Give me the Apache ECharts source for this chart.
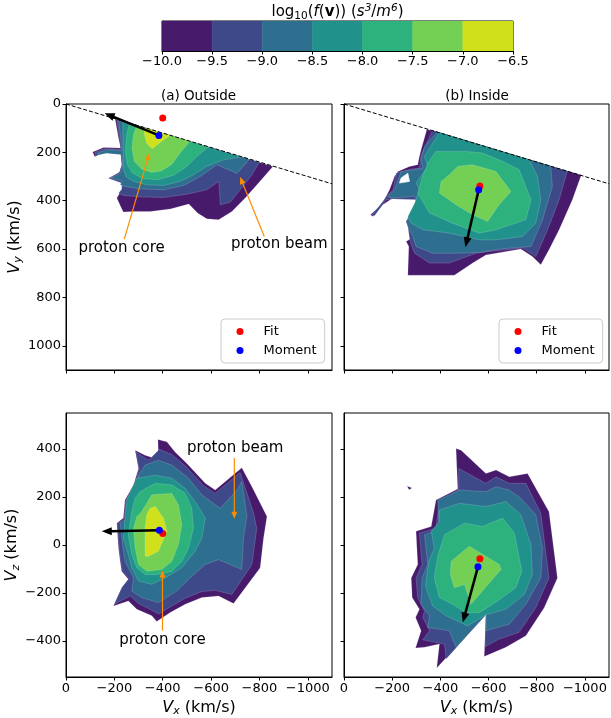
<!DOCTYPE html>
<html><head><meta charset="utf-8">
<script src="https://cdn.jsdelivr.net/npm/echarts@6/dist/echarts.min.js"></script>
<style>html,body{margin:0;padding:0;background:#fff}#c{width:611px;height:718px}</style>
</head><body><div id="c"></div>
<script>
// ---------------- data ----------------
const levels = [-10, -9.5, -9, -8.5, -8, -7.5, -7, -6.5];
const levelColors = ['#481a6c', '#3e4989', '#2e6e8e', '#21918c', '#2db27d', '#74d055', '#d0e11c'];
const xTicks = [0, -200, -400, -600, -800, -1000];
const vyTicks = [0, 200, 400, 600, 800, 1000];
const vzTicks = [-400, -200, 0, 200, 400];
const panelTitles = ['(a) Outside', '(b) Inside'];

// filled-contour regions: [level index (region where log f >= level), [[Vx, V], ...]]  (km/s)
const outsideXY = [
  [0, [[-203,61],[-856,258],[-796,327],[-741,389],[-686,445],[-631,479],[-582,475],[-544,451],[-508,414],[-431,434],[-348,445],[-279,445],[-237,447],[-226,424],[-210,389],[-231,355],[-231,327],[-175,307],[-221,282],[-231,251],[-226,203],[-155,199],[-119,218],[-110,199],[-155,180],[-226,182],[-217,141]]],
  [1, [[-210,63],[-800,241],[-769,293],[-720,355],[-679,406],[-638,417],[-632,320],[-582,355],[-500,373],[-403,387],[-306,384],[-235,378],[-217,369],[-231,351],[-231,327],[-179,307],[-221,282],[-231,251],[-226,207],[-157,202],[-124,215],[-119,200],[-157,185],[-226,187],[-221,141]]],
  [2, [[-217,65],[-759,228],[-707,287],[-624,251],[-555,300],[-486,337],[-403,355],[-306,351],[-244,341],[-224,334],[-232,318],[-185,305],[-226,286],[-235,251],[-232,210],[-168,204],[-133,211],[-130,203],[-168,189],[-232,192],[-226,141]]],
  [3, [[-235,70],[-727,219],[-651,231],[-582,258],[-527,293],[-472,320],[-403,337],[-334,334],[-279,320],[-248,300],[-237,265],[-237,210],[-235,127]]],
  [4, [[-262,79],[-589,177],[-541,217],[-500,258],[-444,295],[-382,313],[-320,309],[-276,286],[-254,251],[-246,196],[-251,127]]],
  [5, [[-293,88],[-513,154],[-472,203],[-438,249],[-396,276],[-355,283],[-313,269],[-283,238],[-273,182],[-279,127]]],
  [6, [[-324,98],[-431,129],[-392,157],[-356,185],[-334,163],[-324,124]]]
];
const insideXY = [
  [0, [[-344,104],[-985,294],[-948,396],[-893,520],[-851,603],[-817,665],[-782,631],[-734,600],[-589,624],[-534,658],[-458,708],[-265,708],[-269,589],[-258,569],[-279,555],[-265,506],[-258,486],[-286,437],[-299,396],[-279,382],[-203,389],[-161,417],[-120,465],[-110,458],[-155,417],[-175,382],[-189,355],[-210,299],[-224,279],[-272,258],[-306,251],[-313,217],[-320,189]]],
  [1, [[-368,109],[-927,277],[-893,396],[-845,520],[-796,631],[-741,596],[-603,610],[-548,617],[-437,658],[-355,658],[-293,617],[-279,582],[-272,555],[-265,506],[-258,486],[-286,437],[-306,396],[-203,393],[-175,396],[-127,462],[-117,458],[-161,403],[-182,375],[-203,355],[-217,286],[-279,269],[-313,265],[-320,210]]],
  [2, [[-389,115],[-858,255],[-865,341],[-824,479],[-776,589],[-644,600],[-562,614],[-479,617],[-368,617],[-299,589],[-286,548],[-265,506],[-258,486],[-293,451],[-313,410],[-293,382],[-196,389],[-182,382],[-210,355],[-237,279],[-293,272],[-327,265],[-320,230],[-334,175]]],
  [3, [[-396,117],[-769,230],[-803,299],[-817,396],[-796,493],[-741,548],[-631,562],[-562,562],[-437,534],[-327,520],[-279,493],[-265,465],[-293,410],[-313,355],[-299,327],[-348,258],[-334,217]]],
  [4, [[-382,196],[-506,196],[-575,203],[-658,237],[-727,272],[-776,396],[-755,479],[-631,520],[-562,534],[-451,493],[-355,451],[-306,368],[-327,299],[-348,244]]],
  [5, [[-472,258],[-534,251],[-631,279],[-693,362],[-644,417],[-596,486],[-534,458],[-465,417],[-396,368],[-403,320],[-437,293]]]
];
const insideXYHoles = [
  [[-237,306],[-265,286],[-272,320],[-230,327]]
];
const outsideXZ = [
  [0, [[-380,440],[-417,430],[-451,388],[-500,340],[-576,257],[-617,229],[-727,322],[-769,243],[-831,119],[-817,29],[-803,-95],[-693,-244],[-631,-212],[-562,-219],[-493,-247],[-431,-281],[-375,-319],[-355,-295],[-293,-268],[-258,-233],[-196,-254],[-230,-178],[-258,-143],[-230,-109],[-224,-68],[-217,-12],[-210,91],[-237,112],[-244,188],[-279,250],[-300,319],[-286,395],[-327,374],[-369,360],[-382,381]]],
  [1, [[-288,388],[-341,353],[-386,399],[-438,377],[-493,330],[-569,247],[-617,215],[-720,302],[-776,132],[-789,70],[-769,-81],[-686,-206],[-617,-189],[-562,-194],[-493,-222],[-431,-258],[-382,-288],[-355,-272],[-300,-244],[-265,-212],[-200,-247],[-233,-175],[-261,-139],[-233,-106],[-226,-65],[-219,-10],[-213,88],[-240,109],[-247,185],[-282,247],[-302,316]]],
  [2, [[-327,333],[-382,353],[-438,333],[-507,278],[-562,209],[-638,153],[-707,229],[-727,264],[-748,119],[-734,29],[-727,-102],[-631,-61],[-576,-81],[-513,-137],[-458,-192],[-382,-240],[-313,-219],[-272,-192],[-279,-137],[-244,-68],[-237,-26],[-224,91],[-258,112],[-265,181],[-293,243],[-300,291]]],
  [3, [[-293,278],[-369,291],[-438,278],[-493,236],[-534,181],[-576,112],[-562,29],[-534,-26],[-479,-95],[-410,-137],[-355,-164],[-300,-150],[-272,-95],[-258,-40],[-237,29],[-244,112],[-251,188],[-272,236]]],
  [4, [[-306,222],[-369,257],[-438,250],[-493,215],[-520,153],[-527,70],[-507,-12],[-479,-68],[-438,-109],[-375,-123],[-327,-123],[-293,-95],[-272,-40],[-258,43],[-272,139],[-286,195]]],
  [5, [[-313,139],[-355,209],[-438,215],[-465,167],[-479,84],[-465,2],[-438,-68],[-396,-102],[-334,-109],[-300,-81],[-286,-12],[-279,70],[-293,119]]],
  [6, [[-348,153],[-369,160],[-403,112],[-417,57],[-382,-26],[-341,-47],[-327,-47],[-327,70],[-334,126]]]
];
const insideXZ = [
  [0, [[-262,246],[-282,238],[-270,230]]],
  [0, [[-465,402],[-486,395],[-589,298],[-631,312],[-686,284],[-762,298],[-851,139],[-886,-137],[-831,-261],[-755,-378],[-672,-426],[-582,-465],[-589,-291],[-385,-512],[-396,-413],[-334,-426],[-297,-429],[-320,-357],[-297,-302],[-313,-268],[-283,-219],[-279,-137],[-306,-81],[-299,57],[-362,77],[-382,188],[-472,233]]],
  [1, [[-476,319],[-589,257],[-631,284],[-686,257],[-755,257],[-817,132],[-851,-137],[-796,-261],[-727,-364],[-644,-392],[-585,-424],[-589,-291],[-424,-475],[-417,-413],[-327,-395],[-355,-357],[-327,-302],[-334,-275],[-306,-219],[-299,-137],[-324,-81],[-313,50],[-382,70],[-396,181],[-476,229]]],
  [2, [[-389,188],[-479,229],[-589,222],[-631,243],[-686,229],[-734,195],[-796,126],[-824,-12],[-817,-137],[-755,-247],[-686,-330],[-589,-357],[-589,-291],[-465,-426],[-437,-357],[-348,-344],[-355,-295],[-320,-247],[-324,-137],[-348,-81],[-334,43],[-396,63]]],
  [3, [[-396,146],[-479,174],[-589,160],[-672,181],[-734,126],[-776,1],[-782,-123],[-748,-206],[-672,-268],[-589,-291],[-513,-337],[-424,-295],[-368,-254],[-338,-171],[-352,-68],[-375,-12],[-362,57],[-396,98]]],
  [4, [[-389,-47],[-417,43],[-500,91],[-575,77],[-658,112],[-707,50],[-738,-109],[-713,-178],[-638,-233],[-562,-282],[-506,-282],[-451,-247],[-396,-219],[-375,-137]]],
  [5, [[-445,-68],[-520,-5],[-645,-81],[-652,-102],[-527,-247],[-500,-165],[-458,-178],[-441,-123]]]
];

// Fit / Moment bulk velocities (km/s)
const fitOutsideXY = [[-400, 58]];
const momentOutsideXY = [[-384, 130]];
const fitInsideXY = [[-564, 339]];
const momentInsideXY = [[-559, 355]];
const fitOutsideXZ = [[-400, 48]];
const momentOutsideXZ = [[-386, 61]];
const fitInsideXZ = [[-564, -57]];
const momentInsideXZ = [[-556, -91]];

// black direction arrows [x0, y0, x1, y1]
const dirArrowOutsideXY = [[-384, 130, -160, 38]];
const dirArrowInsideXY = [[-559, 355, -504, 592]];
const dirArrowOutsideXZ = [[-386, 61, -148, 57]];
const dirArrowInsideXZ = [[-556, -91, -493, -323]];

// annotations
const annotTextOutsideXY = [['proton core', -230, 596], ['proton beam', -882, 578]];
const annotArrowOutsideXY = [[-241, 559, -345, 203], [-820, 548, -720, 302]];
const annotTextOutsideXZ = [['proton beam', -700, 404], ['proton core', -399, -396]];
const annotArrowOutsideXZ = [[-696, 363, -696, 109], [-399, -357, -399, -106]];

// boundary (dashed) line in the Vx-Vy plane
const boundaryLine = [[0, 0], [-1100, 330]];

// ---------------- chart ----------------
const FONT = 'DejaVu Sans';
const chart = echarts.init(document.getElementById('c'), null, {renderer: 'canvas'});
const minus = v => (v < 0 ? '\u2212' + Math.abs(v) : String(v));

const grids = [
  {left: 66, top: 104, width: 266, height: 266},
  {left: 344, top: 104, width: 265, height: 266},
  {left: 66, top: 413, width: 266, height: 266},
  {left: 344, top: 413, width: 265, height: 266},
  {left: 162, top: 21, width: 351, height: 30}
].map(g => Object.assign({show: true, borderColor: '#000', borderWidth: 1, backgroundColor: 'transparent'}, g));

const nameRich = {
  i: {fontFamily: FONT, fontStyle: 'italic', fontSize: 16, color: '#000'},
  s: {fontFamily: FONT, fontStyle: 'italic', fontSize: 11, color: '#000', padding: [8, 0, 0, 0]},
  n: {fontFamily: FONT, fontSize: 16, color: '#000'}
};

function xAxisFor(i) {
  const labeled = i >= 2;
  return {
    type: 'value', gridIndex: i, min: -1100, max: 0, inverse: true,
    axisLine: {show: true, onZero: false, lineStyle: {color: '#000', width: 1}},
    axisTick: {show: true, length: 3.5, customValues: xTicks, lineStyle: {color: '#000', width: 1}},
    axisLabel: {show: labeled, customValues: xTicks, formatter: minus, color: '#000', fontSize: 13, fontFamily: FONT, margin: 5},
    splitLine: {show: false},
    name: labeled ? '{i|V}{s|x}{n| (km/s)}' : '',
    nameLocation: 'middle', nameGap: 21,
    nameTextStyle: {rich: nameRich}
  };
}
function yAxisFor(i) {
  const top = i < 2, labeled = (i % 2 === 0);
  const ticks = top ? vyTicks : vzTicks;
  return {
    type: 'value', gridIndex: i,
    min: top ? 0 : -550, max: top ? 1100 : 550, inverse: top,
    axisLine: {show: true, onZero: false, lineStyle: {color: '#000', width: 1}},
    axisTick: {show: true, length: 3.5, customValues: ticks, lineStyle: {color: '#000', width: 1}},
    axisLabel: {show: labeled, customValues: ticks, formatter: minus, color: '#000', fontSize: 13, fontFamily: FONT, margin: 5},
    splitLine: {show: false},
    name: labeled ? (top ? '{i|V}{s|y}{n| (km/s)}' : '{i|V}{s|z}{n| (km/s)}') : '',
    nameLocation: 'middle', nameGap: 38, nameRotate: 90,
    nameTextStyle: {rich: nameRich}
  };
}

function contourSeries(polys, idx, holes) {
  const items = polys.map(p => ({fill: levelColors[p[0]], stroke: 'rgba(255,255,255,0.28)', pts: p[1]}))
    .concat((holes || []).map(h => ({fill: '#ffffff', stroke: '#ffffff', pts: h})));
  return {
    type: 'custom', xAxisIndex: idx, yAxisIndex: idx, silent: true, clip: true, z: 2,
    data: items.map(it => it.pts[0]),
    renderItem(params, api) {
      const it = items[params.dataIndex];
      return {type: 'polygon', shape: {points: it.pts.map(v => api.coord(v))},
        style: {fill: it.fill, stroke: it.stroke, lineWidth: 0.6}};
    }
  };
}

function arrowSeries(data, idx, color, lw, hl, hw) {
  return {
    type: 'custom', xAxisIndex: idx, yAxisIndex: idx, silent: true, clip: false, z: 4,
    data: data,
    renderItem(params, api) {
      const a = api.coord([api.value(0), api.value(1)]);
      const b = api.coord([api.value(2), api.value(3)]);
      const dx = b[0] - a[0], dy = b[1] - a[1], len = Math.hypot(dx, dy) || 1;
      const ux = dx / len, uy = dy / len;
      const bx = b[0] - ux * hl, by = b[1] - uy * hl;
      return {type: 'group', children: [
        {type: 'line', shape: {x1: a[0], y1: a[1], x2: bx + ux, y2: by + uy}, style: {stroke: color, lineWidth: lw}},
        {type: 'polygon', shape: {points: [[b[0], b[1]], [bx - uy * hw / 2, by + ux * hw / 2], [bx + uy * hw / 2, by - ux * hw / 2]]}, style: {fill: color}}
      ]};
    }
  };
}

function textSeries(items, idx) {
  return {
    type: 'custom', xAxisIndex: idx, yAxisIndex: idx, silent: true, clip: false, z: 4,
    data: items.map(t => [t[1], t[2]]),
    renderItem(params, api) {
      const p = api.coord([api.value(0), api.value(1)]);
      return {type: 'text', x: p[0], y: p[1],
        style: {text: items[params.dataIndex][0], align: 'center', verticalAlign: 'middle', font: '15px "' + FONT + '"', fill: '#000'}};
    }
  };
}

function pointSeries(name, data, idx, color) {
  return {type: 'scatter', name, xAxisIndex: idx, yAxisIndex: idx, data, symbol: 'circle', symbolSize: 7,
    itemStyle: {color, opacity: 1}, z: 5, silent: true};
}

const cbBins = levels.slice(0, -1).map((lo, i) => [lo, levels[i + 1], i]);

const series = [
  contourSeries(outsideXY, 0),
  contourSeries(insideXY, 1, insideXYHoles),
  contourSeries(outsideXZ, 2),
  contourSeries(insideXZ, 3),
  {type: 'line', xAxisIndex: 0, yAxisIndex: 0, data: boundaryLine, symbol: 'none', silent: true, z: 3,
    lineStyle: {color: '#000', width: 1, type: [4, 2]}},
  {type: 'line', xAxisIndex: 1, yAxisIndex: 1, data: boundaryLine, symbol: 'none', silent: true, z: 3,
    lineStyle: {color: '#000', width: 1, type: [4, 2]}},
  arrowSeries(dirArrowOutsideXY, 0, '#000', 2.5, 10, 8),
  arrowSeries(dirArrowInsideXY, 1, '#000', 2.5, 10, 8),
  arrowSeries(dirArrowOutsideXZ, 2, '#000', 2.5, 10, 8),
  arrowSeries(dirArrowInsideXZ, 3, '#000', 2.5, 10, 8),
  arrowSeries(annotArrowOutsideXY, 0, '#ff8c00', 1.2, 7, 6),
  arrowSeries(annotArrowOutsideXZ, 2, '#ff8c00', 1.2, 7, 6),
  textSeries(annotTextOutsideXY, 0),
  textSeries(annotTextOutsideXZ, 2),
  pointSeries('Fit', fitOutsideXY, 0, '#ff0000'),
  pointSeries('Moment', momentOutsideXY, 0, '#0000ff'),
  pointSeries('Fit', fitInsideXY, 1, '#ff0000'),
  pointSeries('Moment', momentInsideXY, 1, '#0000ff'),
  pointSeries('Fit', fitOutsideXZ, 2, '#ff0000'),
  pointSeries('Moment', momentOutsideXZ, 2, '#0000ff'),
  pointSeries('Fit', fitInsideXZ, 3, '#ff0000'),
  pointSeries('Moment', momentInsideXZ, 3, '#0000ff'),
  {
    type: 'custom', xAxisIndex: 4, yAxisIndex: 4, silent: true, clip: true, z: 2,
    data: cbBins,
    renderItem(params, api) {
      const p0 = api.coord([api.value(0), 1]);
      const p1 = api.coord([api.value(1), 0]);
      const c = levelColors[api.value(2)];
      return {type: 'rect', shape: {x: p0[0], y: p0[1], width: p1[0] - p0[0], height: p1[1] - p0[1]},
        style: {fill: c, stroke: c, lineWidth: 0.5}};
    }
  }
];

const legendBase = {
  orient: 'vertical', data: ['Fit', 'Moment'], top: 319,
  icon: 'circle', itemWidth: 7, itemHeight: 7, itemGap: 3,
  padding: [4.5, 8, 4.5, 15.5],
  backgroundColor: 'rgba(255,255,255,0.8)', borderColor: '#cccccc', borderWidth: 1, borderRadius: 4,
  formatter: name => '{a|' + name + '}',
  textStyle: {fontFamily: FONT, fontSize: 13, color: '#000', lineHeight: 16,
    rich: {a: {fontFamily: FONT, fontSize: 13, color: '#000', lineHeight: 16, padding: [0, 0, 0, 15]}}},
  selectedMode: false
};

const option = {
  animation: false,
  backgroundColor: '#fff',
  textStyle: {fontFamily: FONT},
  grid: grids,
  xAxis: [0, 1, 2, 3].map(xAxisFor).concat([{
    type: 'value', gridIndex: 4, min: -10, max: -6.5, interval: 0.5,
    axisLine: {show: true, onZero: false, lineStyle: {color: '#000'}},
    axisTick: {show: true, length: 3.5, lineStyle: {color: '#000'}},
    axisLabel: {color: '#000', fontSize: 13, fontFamily: FONT, margin: 4,
      formatter: v => (v < 0 ? '\u2212' : '') + Math.abs(v).toFixed(1)},
    splitLine: {show: false}
  }]),
  yAxis: [0, 1, 2, 3].map(yAxisFor).concat([{
    type: 'value', gridIndex: 4, min: 0, max: 1, show: false
  }]),
  legend: [
    Object.assign({left: 221}, legendBase),
    Object.assign({left: 499}, legendBase)
  ],
  graphic: [
    {type: 'text', x: 198.5, y: 96, style: {text: panelTitles[0], font: '13.5px "' + FONT + '"', fill: '#000', align: 'center', verticalAlign: 'middle'}},
    {type: 'text', x: 477, y: 96, style: {text: panelTitles[1], font: '13.5px "' + FONT + '"', fill: '#000', align: 'center', verticalAlign: 'middle'}},
    {type: 'text', x: 337.5, y: 12, style: {
      text: '{n|log}{s|10}{n|(}{i|f}{n|(}{b|v}{n|)) (}{i|s}{p|3}{n|/}{i|m}{p|6}{n|)}',
      align: 'center', verticalAlign: 'middle', fill: '#000',
      rich: {
        n: {fontFamily: FONT, fontSize: 15, fill: '#000'},
        i: {fontFamily: FONT, fontSize: 15, fontStyle: 'italic', fill: '#000'},
        b: {fontFamily: FONT, fontSize: 15, fontWeight: 'bold', fill: '#000'},
        s: {fontFamily: FONT, fontSize: 10.5, fill: '#000', padding: [8, 0, 0, 0]},
        p: {fontFamily: FONT, fontSize: 10.5, fontStyle: 'italic', fill: '#000', padding: [0, 0, 8, 0]}
      }
    }}
  ],
  series
};
chart.setOption(option);
</script>
</body></html>
